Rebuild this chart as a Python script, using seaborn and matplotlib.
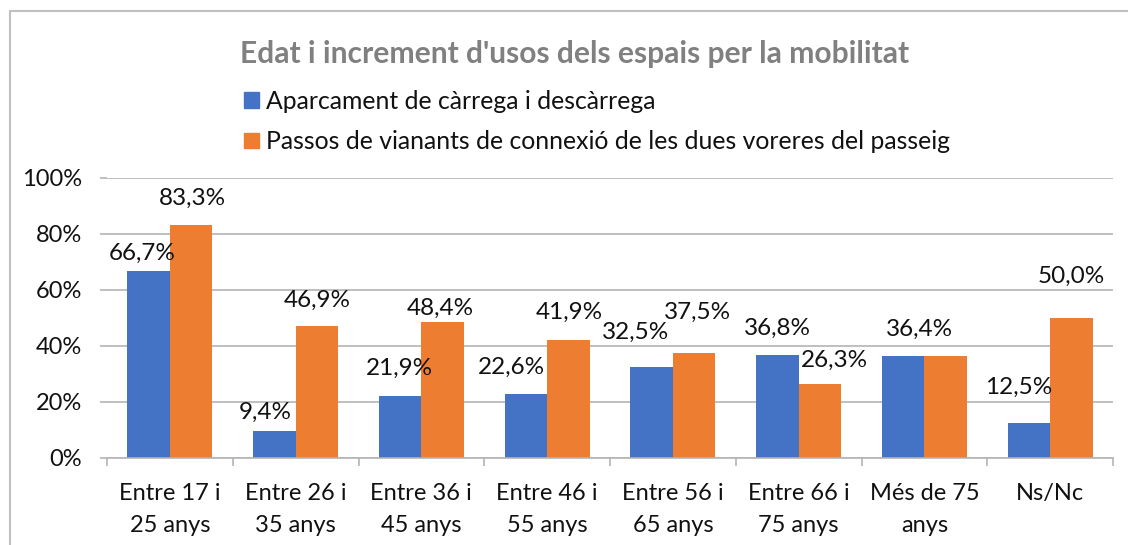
import seaborn as sns
import matplotlib.pyplot as plt
import pandas as pd
import numpy as np
from matplotlib.lines import Line2D
from matplotlib.patches import Patch
from matplotlib.ticker import PercentFormatter, FixedLocator

# --- data ---
grups = ["Entre 17 i\n25 anys", "Entre 26 i\n35 anys", "Entre 36 i\n45 anys",
         "Entre 46 i\n55 anys", "Entre 56 i\n65 anys", "Entre 66 i\n75 anys",
         "Més de 75\nanys", "Ns/Nc"]
aparcament = [0.667, 0.094, 0.219, 0.226, 0.325, 0.368, 0.364, 0.125]
passos = [0.833, 0.469, 0.484, 0.419, 0.375, 0.263, 0.364, 0.500]
series = ["Aparcament de càrrega i descàrrega",
          "Passos de vianants de connexió de les dues voreres del passeig"]
titol = "Edat i increment d'usos dels espais per la mobilitat"

df = pd.DataFrame({
    "grup": grups * 2,
    "valor": aparcament + passos,
    "serie": [series[0]] * len(grups) + [series[1]] * len(grups),
})

# label nudges (pixels) to mimic the Excel label layout; None = no label
nudge_blue = [(-6, 18), (-9, 19), (-1, 28), (-14, 27), (-16, 34), (0, 26), (16, 26), (-10, 35)]
nudge_orange = [(1, 26), (0, 26), (-2, 14), (1, 28), (3, 40), (15, 24), None, (0, 41)]

blue, orange = "#4472C4", "#ED7D31"
grid_col = "#B4B4B4"
ink = "#111111"

sns.set_theme(style="white")
plt.rcParams["font.family"] = ["Lato", "DejaVu Sans"]

fig = plt.figure(figsize=(11.28, 5.45), dpi=100)
ax = fig.add_axes([107 / 1128, 87.5 / 545, 1006 / 1128, 279.5 / 545])

sns.barplot(data=df, x="grup", y="valor", hue="serie", palette=[blue, orange],
            width=0.676, gap=0, linewidth=0, saturation=1, ax=ax, legend=False)

ax.set_ylim(0, 1)
ax.set_xlim(-0.5, len(grups) - 0.5)
ax.yaxis.set_major_formatter(PercentFormatter(1.0, decimals=0))
ax.set_yticks(np.arange(0, 1.01, 0.2))
ax.yaxis.grid(True, color=grid_col, linewidth=1.2)
ax.set_axisbelow(True)
ax.set_xlabel("")
ax.set_ylabel("")
for s in ["top", "right", "left"]:
    ax.spines[s].set_visible(False)
ax.spines["bottom"].set_color(grid_col)
ax.spines["bottom"].set_linewidth(1.2)
ax.tick_params(axis="y", length=5, color=grid_col, width=1.2, labelsize=17, pad=13,
               labelcolor=ink, left=True)
ax.set_xticks(range(len(grups)))
ax.set_xticklabels(grups, linespacing=1.65)
ax.tick_params(axis="x", which="major", length=0, labelsize=17, pad=18.5, labelcolor=ink)
ax.xaxis.set_minor_locator(FixedLocator(np.arange(-0.5, len(grups), 1.0)))
ax.tick_params(axis="x", which="minor", length=6, color=grid_col, width=1.2, bottom=True)

# data labels
for cont, nudges in zip(ax.containers, [nudge_blue, nudge_orange]):
    for bar, nd in zip(cont, nudges):
        if nd is None:
            continue
        h = bar.get_height()
        txt = f"{h * 100:.1f}".replace(".", ",") + "%"
        ax.annotate(txt, (bar.get_x() + bar.get_width() / 2, h),
                    xytext=nd, textcoords="offset pixels",
                    ha="center", va="center", fontsize=17.5, color=ink)

# title and legend
fig.text(575 / 1128, 1 - 54 / 545, titol, ha="center", va="center",
         fontsize=21.6, fontweight="bold", color="#808080")
handles = [Patch(color=blue), Patch(color=orange)]
fig.legend(handles, series, loc="upper left", bbox_to_anchor=(244 / 1128, 1 - 90 / 545),
           frameon=False, fontsize=17.8, handlelength=0.6, handleheight=0.6,
           handletextpad=0.3, labelspacing=0.7, borderaxespad=0, borderpad=0,
           labelcolor=ink)

# chart frame (left and top edges visible)
fig.add_artist(Line2D([10 / 1128, 10 / 1128], [0, 1 - 11 / 545], color="#C0C0C0", linewidth=1.5))
fig.add_artist(Line2D([10 / 1128, 1], [1 - 11 / 545, 1 - 11 / 545], color="#C0C0C0", linewidth=1.5))

fig.savefig("out.png", dpi=100)
